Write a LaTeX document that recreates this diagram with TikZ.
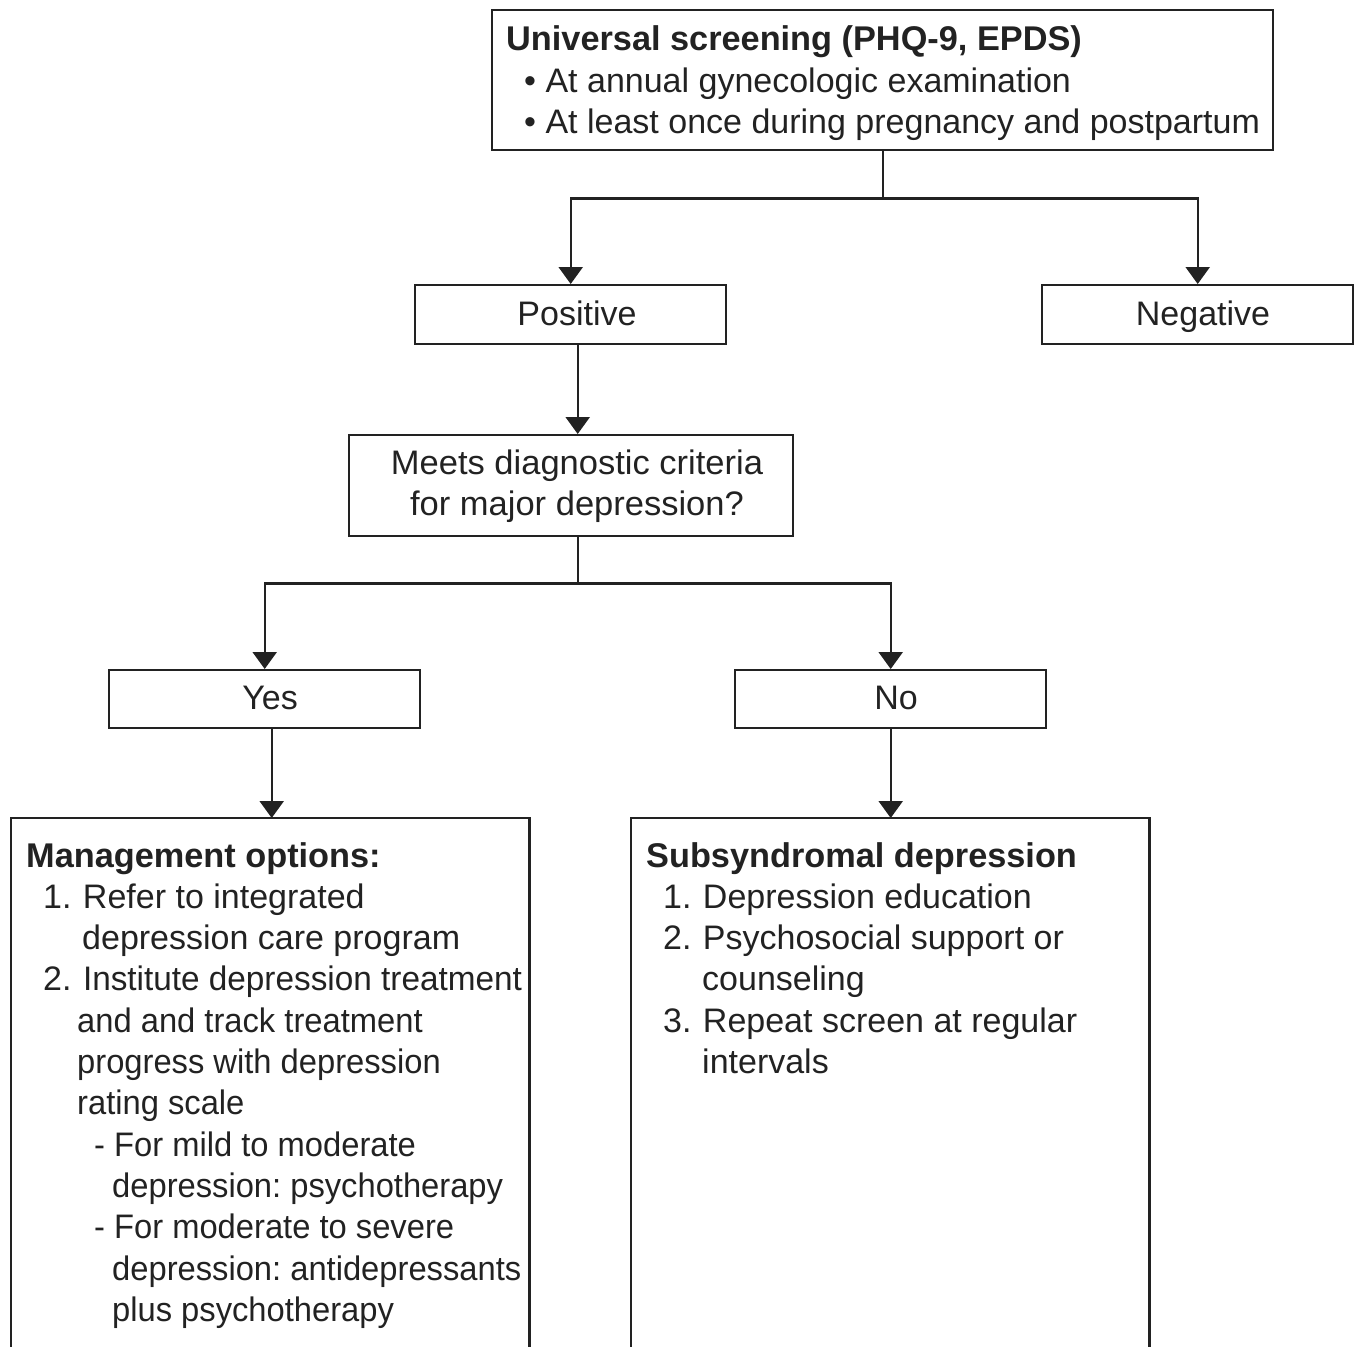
\documentclass[tikz,border=0pt]{standalone}
\usepackage{fontspec}
\usepackage{graphicx}
\setmainfont{Liberation Sans}
\usetikzlibrary{arrows.meta}
\definecolor{ink}{HTML}{222222}
\newcommand{\cnd}[2][0.962]{\scalebox{#1}[1]{#2}}
\begin{document}
\frenchspacing
\begin{tikzpicture}[x=1pt,y=-1pt,
  box/.style={draw=ink, line width=2.4pt, inner sep=0pt, anchor=north west},
  frame/.style={inner sep=0pt, anchor=north west},
  con/.style={draw=ink, line width=2.4pt},
  arr/.style={con, -{Triangle[width=24pt,length=17pt]}},
  txt/.style={font=\fontsize{34}{41}\selectfont\frenchspacing, inner sep=0pt, text=ink},
  btxt/.style={font=\fontsize{34.3}{41}\selectfont\bfseries\frenchspacing, inner sep=0pt, text=ink},
]
\useasboundingbox (0,0) rectangle (1358,1347);

% boxes
\node[box, minimum width=781pt, minimum height=140pt] (screen) at (491,9) {};
\node[box, minimum width=311pt, minimum height=59pt] (pos) at (414,284) {};
\node[box, minimum width=311pt, minimum height=59pt] (neg) at (1041,284) {};
\node[box, minimum width=444pt, minimum height=101pt] (meets) at (348,434) {};
\node[box, minimum width=311pt, minimum height=58pt] (yes) at (108,669) {};
\node[box, minimum width=311pt, minimum height=58pt] (no) at (734,669) {};
\node[frame, minimum width=518pt, minimum height=529pt] (mgmt) at (11,818) {};
\node[frame, minimum width=518pt, minimum height=529pt] (sub) at (631,818) {};
\draw[con] (mgmt.south west) -- (mgmt.north west) -- (mgmt.north east) -- (mgmt.south east);
\draw[con] (sub.south west) -- (sub.north west) -- (sub.north east) -- (sub.south east);

% texts
\node[btxt, anchor=base west] (s0) at (506,50) {Universal screening (PHQ-9, EPDS)};
\node[txt, anchor=base west] (s1) at (524,92) {• At annual gynecologic examination};
\node[txt, anchor=base west] (s2) at (524,133) {• At least once during pregnancy and postpartum};
\node[txt, anchor=base] (tpos) at (577,325) {Positive};
\node[txt, anchor=base] (tneg) at (1203,325) {Negative};
\node[txt, anchor=base] (tm1) at (577,474) {\cnd[1.015]{Meets diagnostic criteria}};
\node[txt, anchor=base] (tm2) at (577,515) {\cnd[1.015]{for major depression?}};
\node[txt, anchor=base] (tyes) at (270,709) {Yes};
\node[txt, anchor=base] (tno) at (896,709) {No};

\node[btxt, anchor=base west] (m0) at (26,867) {Management options:};
\node[txt, anchor=base west] (m1) at (43,908.3) {1.\kern2pt{} Refer to integrated};
\node[txt, anchor=base west] (m2) at (82,949.6) {depression care program};
\node[txt, anchor=base west] (m3) at (43,990.9) {2.\kern2pt{} \cnd[0.98]{Institute depression treatment}};
\node[txt, anchor=base west] (m4) at (77,1032.2) {\cnd{and and track treatment}};
\node[txt, anchor=base west] (m5) at (77,1073.5) {\cnd{progress with depression}};
\node[txt, anchor=base west] (m6) at (77,1114.8) {\cnd{rating scale}};
\node[txt, anchor=base west] (m7) at (94,1156.1) {\cnd{- For mild to moderate}};
\node[txt, anchor=base west] (m8) at (112,1197.4) {\cnd{depression: psychotherapy}};
\node[txt, anchor=base west] (m9) at (94,1238.7) {\cnd{- For moderate to severe}};
\node[txt, anchor=base west] (m10) at (112,1280) {\cnd{depression: antidepressants}};
\node[txt, anchor=base west] (m11) at (112,1321.3) {\cnd{plus psychotherapy}};

\node[btxt, anchor=base west] (u0) at (646,867) {Subsyndromal depression};
\node[txt, anchor=base west] (u1) at (663,908.3) {1.\kern2pt{} Depression education};
\node[txt, anchor=base west] (u2) at (663,949.6) {2.\kern2pt{} Psychosocial support or};
\node[txt, anchor=base west] (u3) at (702,990.9) {counseling};
\node[txt, anchor=base west] (u4) at (663,1032.2) {3.\kern2pt{} Repeat screen at regular};
\node[txt, anchor=base west] (u5) at (702,1073.5) {intervals};

% connectors
\path (screen.south) ++(0,47) coordinate (j1);
\draw[con] (screen.south) -- (j1);
\draw[arr] (j1) -| (pos.north);
\draw[arr] (j1) -| (neg.north);
\draw[arr] ([xshift=7pt]pos.south) -- ([xshift=7pt]pos.south |- meets.north);
\path ([xshift=7pt]meets.south) ++(0,46) coordinate (j2);
\draw[con] ([xshift=7pt]meets.south) -- (j2);
\draw[arr] (j2) -| (yes.north);
\draw[arr] (j2) -| (no.north);
\draw[arr] ([xshift=7pt]yes.south) -- ([xshift=7pt]yes.south |- mgmt.north);
\draw[arr] (no.south) -- (no.south |- sub.north);
\end{tikzpicture}
\end{document}
